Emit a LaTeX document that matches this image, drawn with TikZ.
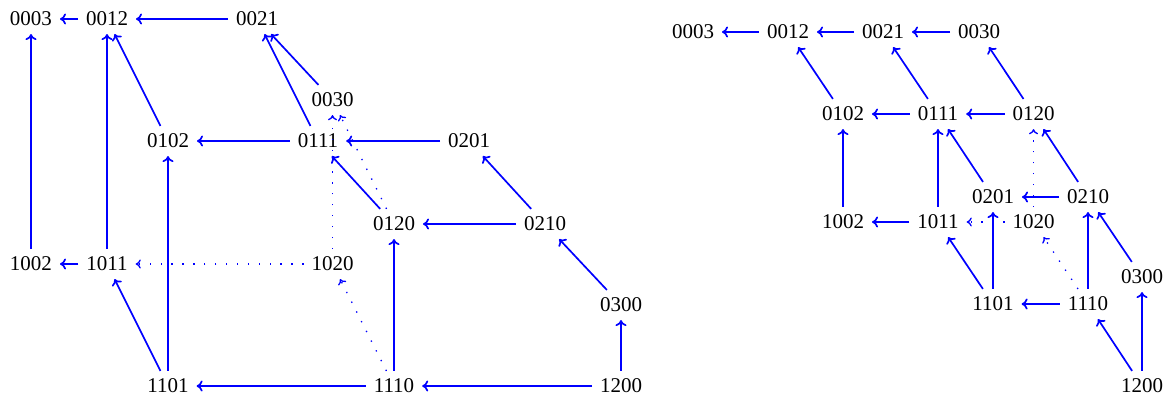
\documentclass[tikz,border=0pt]{standalone}
\usepackage{fontspec}
\setmainfont{Liberation Serif}
\usetikzlibrary{arrows.meta}
\tikzset{
  lbl/.style={inner sep=4pt, outer sep=0pt, font=\fontsize{10.5}{12}\selectfont},
  ar/.style={-{To[length=3pt,width=5.5pt]}, draw=blue, line width=0.85pt},
  dt/.style={-{To[length=2.6pt,width=4.5pt]}, draw=blue, line width=0.65pt, dash pattern=on 0.65pt off 4.8pt},
}
\begin{document}
\begin{tikzpicture}[x=0.5pt,y=-0.5pt]
\useasboundingbox (0,0) rectangle (1170,397);
% left diagram
\node[lbl] (L0003) at (31,19) {0003};
\node[lbl] (L0012) at (107,19) {0012};
\node[lbl] (L0021) at (257,19) {0021};
\node[lbl] (L0030) at (332.5,100) {0030};
\node[lbl] (L0102) at (168,141) {0102};
\node[lbl] (L0111) at (318,141) {0111};
\node[lbl] (L0201) at (469,141) {0201};
\node[lbl] (L0120) at (394,224) {0120};
\node[lbl] (L0210) at (545,224) {0210};
\node[lbl] (L1002) at (31,264) {1002};
\node[lbl] (L1011) at (107,264) {1011};
\node[lbl] (L1020) at (332.5,264) {1020};
\node[lbl] (L0300) at (621,305) {0300};
\node[lbl] (L1101) at (168,386) {1101};
\node[lbl] (L1110) at (394,386) {1110};
\node[lbl] (L1200) at (621,386) {1200};
\draw[ar] (L0012) -- (L0003);
\draw[ar] (L0021) -- (L0012);
\draw[ar] (L0030) -- (L0021);
\draw[ar] (L0111) -- (L0021);
\draw[ar] (L0102) -- (L0012);
\draw[ar] (L1011) -- (L0012);
\draw[ar] (L1002) -- (L0003);
\draw[ar] (L0111) -- (L0102);
\draw[ar] (L0201) -- (L0111);
\draw[ar] (L0120) -- (L0111);
\draw[ar] (L0210) -- (L0120);
\draw[ar] (L0210) -- (L0201);
\draw[ar] (L0300) -- (L0210);
\draw[ar] (L1200) -- (L0300);
\draw[ar] (L1200) -- (L1110);
\draw[ar] (L1110) -- (L1101);
\draw[ar] (L1110) -- (L0120);
\draw[ar] (L1101) -- (L1011);
\draw[ar] (L1101) -- (L0102);
\draw[ar] (L1011) -- (L1002);
\draw[dt] (L1020) -- (L1011);
\draw[dt] (L1110) -- (L1020);
\draw[dt] (L1020) -- (L0030);
\draw[dt] (L0120) -- (L0030);
% right diagram
\node[lbl] (R0003) at (693,32) {0003};
\node[lbl] (R0012) at (788,32) {0012};
\node[lbl] (R0021) at (883,32) {0021};
\node[lbl] (R0030) at (979,32) {0030};
\node[lbl] (R0102) at (843,114) {0102};
\node[lbl] (R0111) at (938,114) {0111};
\node[lbl] (R0120) at (1033.5,114) {0120};
\node[lbl] (R0201) at (993,197) {0201};
\node[lbl] (R0210) at (1088,197) {0210};
\node[lbl] (R1002) at (843,222) {1002};
\node[lbl] (R1011) at (938,222) {1011};
\node[lbl] (R1020) at (1033.5,222) {1020};
\node[lbl] (R0300) at (1142,277) {0300};
\node[lbl] (R1101) at (993,304) {1101};
\node[lbl] (R1110) at (1088,304) {1110};
\node[lbl] (R1200) at (1142,386) {1200};
\draw[ar] (R0012) -- (R0003);
\draw[ar] (R0021) -- (R0012);
\draw[ar] (R0030) -- (R0021);
\draw[ar] (R0102) -- (R0012);
\draw[ar] (R0111) -- (R0021);
\draw[ar] (R0120) -- (R0030);
\draw[ar] (R0111) -- (R0102);
\draw[ar] (R0120) -- (R0111);
\draw[ar] (R1002) -- (R0102);
\draw[ar] (R1011) -- (R0111);
\draw[ar] (R0201) -- (R0111);
\draw[ar] (R0210) -- (R0201);
\draw[ar] (R0210) -- (R0120);
\draw[ar] (R1011) -- (R1002);
\draw[ar] (R1101) -- (R1011);
\draw[ar] (R1101) -- (R0201);
\draw[ar] (R1110) -- (R1101);
\draw[ar] (R1110) -- (R0210);
\draw[ar] (R0300) -- (R0210);
\draw[ar] (R1200) -- (R0300);
\draw[ar] (R1200) -- (R1110);
\draw[dt] (R1020) -- (R0120);
\draw[dt] (R1020) -- (R1011);
\draw[dt] (R1110) -- (R1020);
\end{tikzpicture}
\end{document}
